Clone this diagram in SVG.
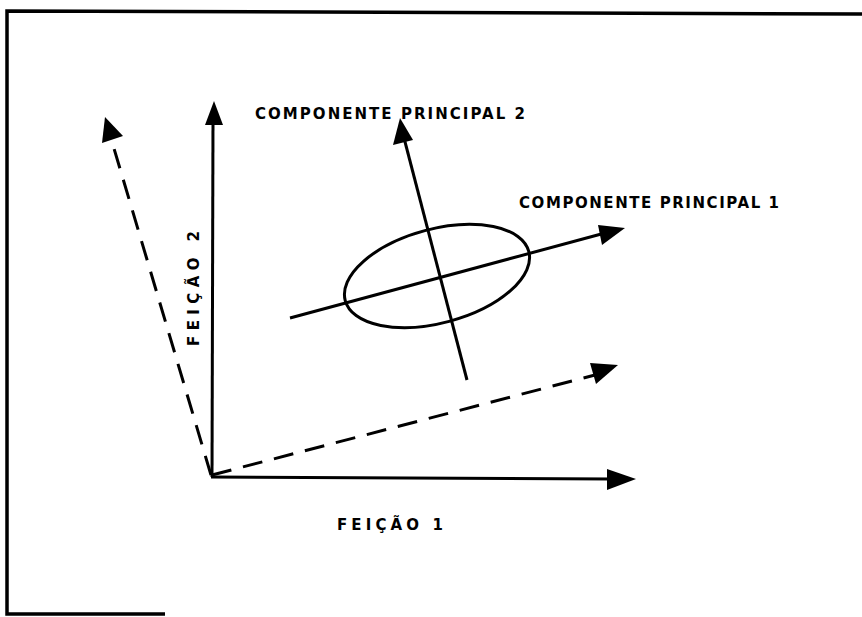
<svg xmlns="http://www.w3.org/2000/svg" width="862" height="617" viewBox="0 0 862 617">
<style>
.frame{fill:none;stroke:#000;stroke-width:3.5}
.ax{fill:none;stroke:#000;stroke-width:3}
.dash{fill:none;stroke:#000;stroke-width:3;stroke-dasharray:20 12}
.head{fill:#000}
.lbl{font-family:"DejaVu Sans","Liberation Sans",sans-serif;font-weight:bold;font-size:15px;fill:#000}
</style>
<rect width="862" height="617" fill="#fff"/>
<g id="frame">
<path class="frame" d="M862 14 L7 11 L7 614 L165 614"/>
</g>
<g id="connectors">
<line class="ax" x1="212" y1="477" x2="213" y2="120"/>
<polygon class="head" points="214,101 205,125 223,125"/>
<line class="ax" x1="211" y1="477" x2="612" y2="479"/>
<polygon class="head" points="636,479 607,469 607,490"/>
<line class="dash" x1="211" y1="475" x2="110" y2="135"/>
<polygon class="head" points="105,117 102,143 123,136"/>
<line class="dash" x1="212" y1="475" x2="595" y2="375"/>
<polygon class="head" points="618,365 590,363 596,384"/>
<line class="ax" x1="290" y1="318" x2="605" y2="233"/>
<polygon class="head" points="625,228 598,225 602,245"/>
<line class="ax" x1="467" y1="380" x2="404" y2="138"/>
<polygon class="head" points="400,118 393,145 413,140"/>
</g>
<g id="ellipse">
<ellipse cx="437" cy="276" rx="95" ry="47" transform="rotate(-15 437 276)" fill="none" stroke="#000" stroke-width="3"/>
</g>
<g id="labels">
<text class="lbl" x="255" y="119" textLength="270" lengthAdjust="spacing">COMPONENTE PRINCIPAL 2</text>
<text class="lbl" x="519" y="208" textLength="260" lengthAdjust="spacing">COMPONENTE PRINCIPAL 1</text>
<text class="lbl" x="337" y="530" textLength="106" lengthAdjust="spacing">FEIÇÃO 1</text>
<text class="lbl" transform="translate(199 346) rotate(-90)" textLength="115" lengthAdjust="spacing">FEIÇÃO 2</text>
</g>
</svg>
